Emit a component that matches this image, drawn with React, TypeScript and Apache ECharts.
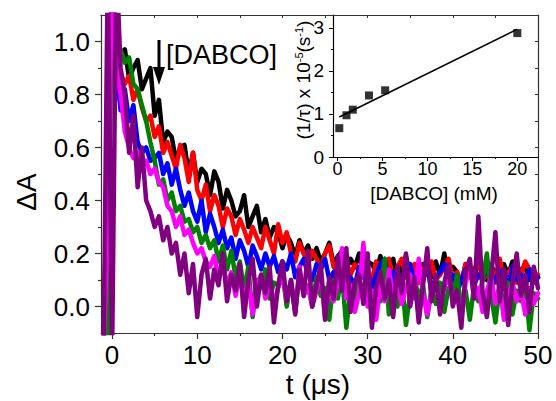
import React, { useEffect, useRef } from "react";
import * as echarts from "echarts";

// sampling grid of the transient traces (µs)
const T0 = -1.0;
const DT = 0.5;

const blackTrace = [
  -0.15, 0.68, 1.3, 0.9, 0.95, 0.97, 0.86, 0.9, 0.93, 0.82,
  0.86, 0.9, 0.72, 0.78, 0.62, 0.66, 0.64, 0.55, 0.6, 0.61,
  0.5, 0.58, 0.47, 0.52, 0.5, 0.42, 0.51, 0.47, 0.37, 0.44,
  0.4, 0.34, 0.36, 0.42, 0.3, 0.34, 0.38, 0.28, 0.33, 0.26,
  0.3, 0.28, 0.22, 0.27, 0.24, 0.19, 0.25, 0.2, 0.23, 0.18,
  0.22, 0.17, 0.2, 0.24, 0.16, 0.19, 0.21, 0.14, 0.18, 0.15,
  0.2, 0.12, 0.17, 0.16, 0.13, 0.19, 0.11, 0.16, 0.18, 0.1,
  0.15, 0.19, 0.12, 0.14, 0.09, 0.16, 0.13, 0.11, 0.17, 0.12,
  0.2, 0.11, 0.15, 0.13, 0.09, 0.16, 0.14, 0.1, 0.18, 0.12,
  0.1, 0.15, 0.13, 0.09, 0.16, 0.12, 0.17, 0.1, 0.14, 0.15,
  0.1, 0.13, 0.11,
];

const redTrace = [
  -0.15, 0.6, 1.3, 0.95, 0.88, 0.84, 0.87, 0.78, 0.82, 0.75,
  0.7, 0.72, 0.64, 0.68, 0.58, 0.62, 0.57, 0.52, 0.61, 0.56,
  0.47, 0.58, 0.44, 0.4, 0.46, 0.36, 0.42, 0.38, 0.3, 0.37,
  0.34, 0.27, 0.33, 0.29, 0.24, 0.3, 0.26, 0.22, 0.3, 0.25,
  0.2, 0.31, 0.24, 0.28, 0.2, 0.17, 0.24, 0.2, 0.16, 0.21,
  0.18, 0.14, 0.2, 0.23, 0.15, 0.13, 0.19, 0.17, 0.12, 0.16,
  0.13, 0.18, 0.12, 0.1, 0.17, 0.14, 0.11, 0.18, 0.09, 0.15,
  0.18, 0.11, 0.13, 0.16, 0.09, 0.14, 0.12, 0.17, 0.1, 0.12,
  0.15, 0.18, 0.1, 0.13, 0.09, 0.16, 0.11, 0.14, 0.17, 0.1,
  0.12, 0.16, 0.09, 0.18, 0.11, 0.13, 0.15, 0.09, 0.12, 0.17,
  0.14, 0.1, 0.12,
];

const blueTrace = [
  -0.15, 0.4, 1.3, 0.9, 0.74, 0.82, 0.7, 0.76, 0.62, 0.58,
  0.6, 0.55, 0.56, 0.58, 0.5, 0.54, 0.46, 0.52, 0.44, 0.38,
  0.43, 0.36, 0.32, 0.4, 0.28, 0.35, 0.3, 0.24, 0.29, 0.22,
  0.26, 0.18, 0.25, 0.21, 0.15, 0.23, 0.19, 0.14, 0.2, 0.15,
  0.19, 0.13, 0.17, 0.14, 0.2, 0.11, 0.15, 0.18, 0.12, 0.1,
  0.16, 0.14, 0.18, 0.1, 0.13, 0.09, 0.17, 0.12, 0.11, 0.08,
  0.15, 0.11, 0.13, 0.07, 0.12, 0.16, 0.18, 0.09, 0.13, 0.06,
  0.11, 0.14, 0.16, 0.08, 0.12, 0.1, 0.15, 0.06, 0.11, 0.13,
  0.16, 0.09, 0.12, 0.05, 0.1, 0.14, 0.15, 0.08, 0.12, 0.1,
  0.16, 0.07, 0.11, 0.13, 0.14, 0.06, 0.15, 0.1, 0.12, 0.07,
  0.14, 0.09, 0.11,
];

const greenTrace = [
  -0.05, -0.12, 1.3, 0.95, 0.97, 0.92, 0.94, 0.84, 0.82, 0.76,
  0.7, 0.62, 0.55, 0.46, 0.48, 0.4, 0.43, 0.36, 0.38, 0.32,
  0.33, 0.28, 0.3, 0.24, 0.27, 0.22, 0.25, 0.17, 0.23, 0.14,
  0.21, 0.11, 0.17, 0.06, 0.15, -0.04, 0.1, 0.07, 0.14, 0.03,
  0.09, 0.08, 0.13, 0.0, 0.1, -0.02, 0.12, 0.05, 0.08, 0.0,
  0.11, 0.04, 0.07, -0.05, 0.1, 0.03, 0.12, -0.08, 0.06, 0.02,
  0.09, 0.04, 0.14, -0.06, 0.05, 0.02, 0.18, -0.03, 0.07, 0.0,
  0.1, -0.07, 0.05, 0.11, 0.03, 0.08, -0.04, 0.06, 0.01, 0.09,
  -0.02, 0.07, 0.04, 0.12, -0.01, 0.06, -0.05, 0.08, 0.02, 0.1,
  0.2, 0.04, -0.06, 0.07, 0.01, 0.09, -0.03, 0.06, 0.02, 0.08,
  -0.09, 0.05, 0.03,
];

const magentaTrace = [
  -0.15, 0.3, 1.3, 0.9, 0.8, 0.66, 0.6, 0.56, 0.58, 0.53,
  0.55, 0.5, 0.52, 0.47, 0.45, 0.38, 0.36, 0.3, 0.34, 0.27,
  0.29, 0.24, 0.2, 0.22, 0.17, 0.15, 0.19, 0.11, 0.16, 0.08,
  0.13, 0.04, 0.12, 0.02, 0.1, -0.03, 0.08, 0.12, 0.03, 0.09,
  0.01, 0.07, 0.12, 0.02, 0.09, -0.02, 0.15, 0.04, 0.08, 0.0,
  0.06, 0.13, -0.04, 0.07, 0.02, 0.09, 0.22, 0.03, 0.08, -0.02,
  0.05, 0.24, 0.0, 0.06, -0.05, 0.08, 0.02, 0.14, 0.04, 0.09,
  0.01, 0.07, 0.12, 0.03, 0.18, 0.05, -0.03, 0.06, 0.1, 0.0,
  0.07, 0.12, 0.02, 0.05, -0.04, 0.09, 0.15, 0.03, 0.07, -0.02,
  0.06, 0.11, 0.01, 0.08, -0.05, 0.04, 0.09, 0.02, 0.06, -0.03,
  0.07, 0.01, 0.05,
];

const purpleTrace = [
  -0.2, 1.3, -0.2, 1.3, 0.9, 0.8, 0.58, 0.72, 0.45, 0.6,
  0.4, 0.36, 0.3, 0.34, 0.25, 0.3, 0.2, 0.24, 0.12, 0.2,
  0.05, 0.16, -0.04, 0.12, 0.18, 0.03, 0.14, 0.08, 0.2, 0.02,
  0.12, 0.06, 0.16, -0.04, 0.1, 0.18, 0.0, 0.12, 0.05, 0.15,
  -0.06, 0.08, 0.17, 0.02, 0.1, -0.03, 0.14, 0.04, 0.21, 0.0,
  0.08, 0.16, -0.05, 0.11, 0.03, 0.19, 0.06, 0.22, -0.02, 0.09,
  0.12, 0.01, 0.2, -0.08, 0.07, 0.13, 0.03, 0.1, -0.04, 0.15,
  0.05, 0.2, 0.0, 0.11, -0.06, 0.08, 0.22, 0.02, 0.12, -0.03,
  0.09, 0.16, 0.0, 0.06, -0.08, 0.13, 0.18, 0.03, 0.34, 0.05,
  -0.04, 0.11, 0.28, 0.02, 0.14, -0.07, 0.09, 0.2, 0.04, 0.12,
  -0.02, 0.15, 0.07,
];

const traceNames = ["c1", "c2", "c3", "c4", "c5", "c6"];
const traceColors = ["#000000", "#ff0000", "#0000ff", "#008000", "#ff00ff", "#800080"];
const traces = [blackTrace, redTrace, blueTrace, greenTrace, magentaTrace, purpleTrace];

// inset: quenching plot
const insetConc = [0.2, 1.0, 1.7, 3.5, 5.3, 20];
const insetRate = [0.67, 0.97, 1.1, 1.43, 1.55, 2.88];
const fitConc = [0.2, 20];
const fitRate = [0.93, 2.97];

const xTicks = [0, 10, 20, 30, 40, 50];
const xMinor = [5, 15, 25, 35, 45];
const xTopTicks = [0, 5, 10, 15, 20, 25, 30, 35, 40, 45, 50];
const yTicks = [0, 0.2, 0.4, 0.6, 0.8, 1.0];
const yMinor = [0.1, 0.3, 0.5, 0.7, 0.9];
const yRightTicks = [0, 0.1, 0.2, 0.3, 0.4, 0.5, 0.6, 0.7, 0.8, 0.9, 1.0];
const insetXTicks = [0, 5, 10, 15, 20];
const insetXMinor = [2.5, 7.5, 12.5, 17.5];
const insetYTicks = [0, 1, 2, 3];
const insetYMinor = [0.5, 1.5, 2.5];

const FONT = "'Liberation Sans', Arial, Helvetica, sans-serif";
const AX = "#333";

function tickAxis(extra: any) {
  return {
    type: "value",
    splitLine: { show: false },
    axisLine: { show: false, onZero: false, lineStyle: { color: AX, width: 1.2 } },
    axisLabel: { show: false },
    ...extra,
  };
}

export default function App() {
  const ref = useRef<HTMLDivElement>(null);

  useEffect(() => {
    if (!ref.current) return;
    const chart = echarts.init(ref.current, undefined, { renderer: "svg" });

    const mainSeries = traces.map((arr, k) => ({
      name: traceNames[k],
      type: "line",
      xAxisIndex: 0,
      yAxisIndex: 0,
      showSymbol: false,
      symbol: "none",
      clip: true,
      z: 2 + k,
      lineStyle: { color: traceColors[k], width: 4.5, join: "round", cap: "round" },
      data: arr.map((v, i) => [T0 + i * DT, v]),
    }));

    const option: any = {
      animation: false,
      backgroundColor: "#ffffff",
      grid: [
        { left: 101, top: 15, width: 437, height: 318 },
        { left: 333, top: 15, width: 205, height: 142 },
      ],
      xAxis: [
        tickAxis({
          gridIndex: 0, min: -1.3, max: 50, position: "bottom",
          axisLine: { show: true, onZero: false, lineStyle: { color: AX, width: 1.2 } },
          axisTick: { show: true, inside: false, length: 6, customValues: xTicks, lineStyle: { color: AX, width: 1.2 } },
          axisLabel: { show: true, customValues: xTicks, fontSize: 26, fontFamily: FONT, color: "#000", margin: 9 },
        }),
        tickAxis({
          gridIndex: 0, min: -1.3, max: 50, position: "bottom",
          axisTick: { show: true, inside: false, length: 3, customValues: xMinor, lineStyle: { color: AX, width: 1.2 } },
        }),
        tickAxis({
          gridIndex: 0, min: -1.3, max: 50, position: "top",
          axisLine: { show: true, onZero: false, lineStyle: { color: AX, width: 1.2 } },
          axisTick: { show: true, inside: true, length: 3, customValues: xTopTicks, lineStyle: { color: AX, width: 1 } },
        }),
        tickAxis({
          gridIndex: 1, min: -0.5, max: 22.3, position: "bottom",
          axisLine: { show: true, onZero: false, lineStyle: { color: "#000", width: 1.2 } },
          axisTick: { show: true, inside: false, length: 4, customValues: insetXTicks, lineStyle: { color: "#000" } },
          axisLabel: { show: true, customValues: insetXTicks, fontSize: 18, fontFamily: FONT, color: "#000", margin: 3 },
        }),
        tickAxis({
          gridIndex: 1, min: -0.5, max: 22.3, position: "bottom",
          axisTick: { show: true, inside: false, length: 2, customValues: insetXMinor, lineStyle: { color: "#000" } },
        }),
      ],
      yAxis: [
        tickAxis({
          gridIndex: 0, min: -0.1, max: 1.1, position: "left",
          axisLine: { show: true, onZero: false, lineStyle: { color: AX, width: 1.2 } },
          axisTick: { show: true, inside: false, length: 6, customValues: yTicks, lineStyle: { color: AX, width: 1.2 } },
          axisLabel: {
            show: true, customValues: yTicks, fontSize: 26, fontFamily: FONT, color: "#000", margin: 11,
            formatter: (v: number) => v.toFixed(1),
          },
        }),
        tickAxis({
          gridIndex: 0, min: -0.1, max: 1.1, position: "left",
          axisTick: { show: true, inside: false, length: 3, customValues: yMinor, lineStyle: { color: AX, width: 1.2 } },
        }),
        tickAxis({
          gridIndex: 0, min: -0.1, max: 1.1, position: "right",
          axisLine: { show: true, onZero: false, lineStyle: { color: AX, width: 1.2 } },
          axisTick: { show: true, inside: true, length: 3, customValues: yRightTicks, lineStyle: { color: AX, width: 1 } },
        }),
        tickAxis({
          gridIndex: 1, min: 0, max: 3.3, position: "left",
          axisLine: { show: true, onZero: false, lineStyle: { color: "#000", width: 1.2 } },
          axisTick: { show: true, inside: false, length: 4, customValues: insetYTicks, lineStyle: { color: "#000" } },
          axisLabel: { show: true, customValues: insetYTicks, fontSize: 19, fontFamily: FONT, color: "#000", margin: 9 },
        }),
        tickAxis({
          gridIndex: 1, min: 0, max: 3.3, position: "left",
          axisTick: { show: true, inside: false, length: 2, customValues: insetYMinor, lineStyle: { color: "#000" } },
        }),
      ],
      series: [
        ...mainSeries,
        {
          name: "fit",
          type: "line",
          xAxisIndex: 3,
          yAxisIndex: 3,
          symbol: "none",
          z: 20,
          lineStyle: { color: "#000", width: 1.5 },
          data: fitConc.map((c, i) => [c, fitRate[i]]),
        },
        {
          name: "rate",
          type: "scatter",
          xAxisIndex: 3,
          yAxisIndex: 3,
          symbol: "rect",
          symbolSize: 8,
          z: 21,
          itemStyle: { color: "#000" },
          data: insetConc.map((c, i) => [c, insetRate[i]]),
        },
      ],
      graphic: [
        {
          type: "text", x: 26, y: 192, rotation: Math.PI / 2, z: 100,
          style: { text: "ΔA", fontSize: 28, fontFamily: FONT, fill: "#000", textAlign: "center", textVerticalAlign: "middle" },
        },
        {
          type: "text", x: 318, y: 384, z: 100,
          style: { text: "t (μs)", fontSize: 28, fontFamily: FONT, fill: "#000", textAlign: "center", textVerticalAlign: "middle" },
        },
        {
          type: "text", x: 166, y: 55, z: 100,
          style: { text: "[DABCO]", fontSize: 27, fontFamily: FONT, fill: "#000", textAlign: "left", textVerticalAlign: "middle" },
        },
        {
          type: "rect", z: 100,
          shape: { x: 157.5, y: 40, width: 3, height: 30 },
          style: { fill: "#000" },
        },
        {
          type: "polygon", z: 100,
          shape: { points: [[153, 67], [165, 67], [159, 85]] },
          style: { fill: "#000" },
        },
        {
          type: "text", x: 434, y: 193, z: 100,
          style: { text: "[DABCO] (mM)", fontSize: 19, fontFamily: FONT, fill: "#000", textAlign: "center", textVerticalAlign: "middle" },
        },
        {
          type: "text", x: 303, y: 80, rotation: Math.PI / 2, z: 100,
          style: {
            text: "(1/τ) x 10{sup|-5}(s{sup|-1})",
            fontSize: 19, fontFamily: FONT, fill: "#000", textAlign: "center", textVerticalAlign: "middle",
            rich: { sup: { fontSize: 11, fontFamily: FONT, fill: "#000", verticalAlign: "top" } },
          },
        },
      ],
    };

    chart.setOption(option);
    return () => chart.dispose();
  }, []);

  return (
    <div
      ref={ref}
      style={{ position: "fixed", left: 0, top: 0, width: 556, height: 401, background: "#fff" }}
    />
  );
}
